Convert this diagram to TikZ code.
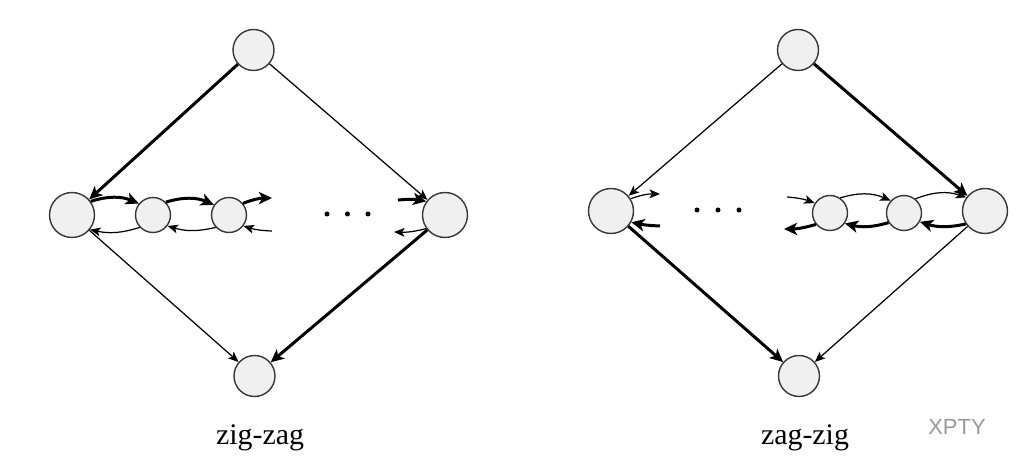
\documentclass[tikz,border=0pt]{standalone}
\usepackage{fontspec}
\setmainfont{Liberation Serif}
\newfontfamily\wmfont{Liberation Sans}
\usepackage{tikz}
\usetikzlibrary{arrows.meta}
\definecolor{splayfill}{rgb}{0.94,0.94,0.94}
\definecolor{splayline}{rgb}{0.22,0.22,0.22}
\tikzstyle{bignode}=[circle, draw=splayline, line width=0.8pt, fill=splayfill, minimum size=0.9cm, inner sep=0pt]
\tikzstyle{endnode}=[bignode, minimum size=0.82cm]
\tikzstyle{smallnode}=[bignode, minimum size=0.7cm]
\tikzstyle{dotnode}=[circle, fill=black, minimum size=0.1cm, inner sep=0pt]
\tikzstyle{thinarc}=[line width=0.7pt, -{Stealth[length=6pt,width=5pt,inset=1.5pt]}]
\tikzstyle{thickarc}=[line width=1.7pt, -{Stealth[length=7.5pt,width=7pt,inset=2pt]}]
\tikzstyle{caption}=[font=\fontsize{17}{20}\selectfont, anchor=base]
\newcommand{\splaynode}[4]{
	\node[#1] (#2) at (#3) {#4};}

\begin{document}
\begin{tikzpicture}
	\useasboundingbox (0,0) rectangle (20.4,9.44);

	% zig-zag
	\splaynode{endnode}{zzT}{5.07,8.44}{}
	\splaynode{bignode}{zzL}{1.44,5.14}{}
	\splaynode{bignode}{zzR}{8.90,5.14}{}
	\splaynode{endnode}{zzB}{5.09,1.92}{}
	\splaynode{smallnode}{zza}{3.06,5.14}{}
	\splaynode{smallnode}{zzb}{4.58,5.14}{}
	\foreach \x [count=\i] in {6.54,6.95,7.36}
		\node[dotnode] (zzdot\i) at (\x,5.16) {};
	\coordinate (zzA) at (5.44,5.48);
	\coordinate (zzB2) at (5.44,4.82);
	\coordinate (zzC) at (7.96,5.44);
	\coordinate (zzD) at (7.88,4.80);

	\path [thickarc] (zzT) edge (zzL);
	\path [thinarc] (zzT) edge (zzR);
	\path [thinarc] (zzL) edge (zzB);
	\path [thickarc] (zzR) edge (zzB);

	\path [thickarc] (zzL.36) edge [bend left=20] (zza.141);
	\path [thickarc] (zza.45) edge [bend left=20] (zzb.146);
	\path [thickarc] (zzb.40) edge [bend left=10] (zzA);
	\path [thickarc] (zzC) edge [bend left=8] (zzR.144);
	\path [thinarc] (zza.223) edge [bend left=15] (zzL.-39);
	\path [thinarc] (zzb.223) edge [bend left=15] (zza.-37);
	\path [thinarc] (zzB2) edge [bend left=8] (zzb.-37);
	\path [thinarc] (zzR.216) edge [bend left=8] (zzD);

	\node [caption] (zzlabel) at (5.20,0.54) {zig-zag};

	% zag-zig
	\splaynode{endnode}{zgT}{15.96,8.44}{}
	\splaynode{bignode}{zgL}{12.22,5.22}{}
	\splaynode{bignode}{zgR}{19.70,5.22}{}
	\splaynode{endnode}{zgB}{15.98,1.92}{}
	\splaynode{smallnode}{zgc}{16.60,5.18}{}
	\splaynode{smallnode}{zgd}{18.08,5.18}{}
	\foreach \x [count=\i] in {13.94,14.36,14.78}
		\node[dotnode] (zgdot\i) at (\x,5.24) {};
	\coordinate (zgA) at (13.20,5.56);
	\coordinate (zgB2) at (13.20,4.92);
	\coordinate (zgC) at (15.74,5.50);
	\coordinate (zgD) at (15.68,4.86);

	\path [thinarc] (zgT) edge (zgL);
	\path [thickarc] (zgT) edge (zgR);
	\path [thickarc] (zgL) edge (zgB);
	\path [thinarc] (zgR) edge (zgB);

	\path [thinarc] (zgL.32) edge [bend left=10] (zgA);
	\path [thickarc] (zgB2) edge [bend left=5] (zgL.-29);
	\path [thinarc] (zgC) edge [bend left=8] (zgc.147);
	\path [thinarc] (zgc.56) edge [bend left=20] (zgd.137);
	\path [thinarc] (zgd.51) edge [bend left=20] (zgR.144);
	\path [thickarc] (zgR.214) edge [bend left=15] (zgd.-29);
	\path [thickarc] (zgd.212) edge [bend left=15] (zgc.-35);
	\path [thickarc] (zgc.219) edge [bend left=8] (zgD);

	\node [caption] (zglabel) at (16.10,0.54) {zag-zig};

	\node [font=\wmfont\fontsize{12.5}{14}\selectfont, text=black!40] (wm) at (19.14,0.90) {XPTY};
\end{tikzpicture}
\end{document}
